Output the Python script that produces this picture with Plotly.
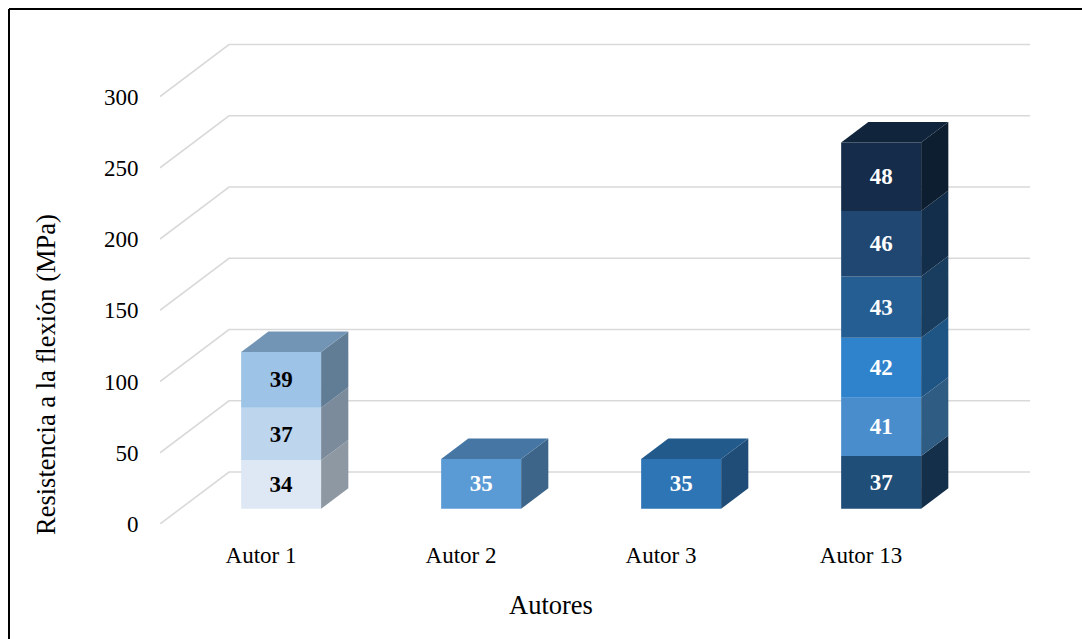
import plotly.graph_objects as go

# ---------------- data ----------------
categories = ["Autor 1", "Autor 2", "Autor 3", "Autor 13"]
autor1_values = [34, 37, 39]
autor2_values = [35]
autor3_values = [35]
autor13_values = [37, 41, 42, 43, 46, 48]
y_ticks = [0, 50, 100, 150, 200, 250, 300]

series = [autor1_values, autor2_values, autor3_values, autor13_values]

# ---------------- styles ----------------
front_colors = [
    ["#dee8f4", "#bdd5ed", "#9dc3e6"],
    ["#5b9bd5"],
    ["#2e75b6"],
    ["#1f4e79", "#4a8dcc", "#2f83cc", "#255e92", "#1f4771", "#152d4a"],
]
side_colors = [
    ["#8d98a3", "#7b8b9b", "#617c95"],
    ["#3d6589"],
    ["#1f4d78"],
    ["#142f4a", "#2f5c82", "#1f5585", "#183d5f", "#132e4a", "#0d1e30"],
]
top_colors = ["#7395b5", "#4677a4", "#235a8c", "#10243b"]
text_colors = ["#000000", "#ffffff", "#ffffff", "#ffffff"]

FONT = "Liberation Serif"
GRID = "#d9d9d9"

# geometry (plot-area pixels -> data units)
L_PX, R_PX, T_PX, B_PX = 160, 1032, 38, 524
PX_PER_X = 200.0
PX_PER_Y = 1.425
X0 = -(261 - L_PX) / PX_PER_X
X1 = (R_PX - 261) / PX_PER_X
XG1 = (1030 - 261) / PX_PER_X
Y1 = (B_PX - T_PX) / PX_PER_Y
DX = 69 / PX_PER_X          # wall depth in x units
DY = 52 / PX_PER_Y          # wall depth in y units
F0 = 0.292                  # bar front depth fraction
FD = 0.394                  # bar depth fraction
BAR_W = 0.4

fig = go.Figure()

shapes = []
# gridlines: diagonal on the side wall + horizontal on back wall
for v in y_ticks:
    shapes.append(dict(type="path", xref="x", yref="y", layer="below",
                       path=f"M {X0},{v} L {X0 + DX},{v + DY} L {XG1},{v + DY}",
                       line=dict(color=GRID, width=1.6)))

bx, by, bbase, bcol, btext, btcol = [], [], [], [], [], []
for i, vals in enumerate(series):
    xc = i + F0 * DX
    base = F0 * DY
    xr = xc + BAR_W / 2
    xl = xc - BAR_W / 2
    ddx, ddy = FD * DX, FD * DY
    cum = base
    for j, v in enumerate(vals):
        b, t = cum, cum + v
        # side face
        fig.add_trace(go.Scatter(
            x=[xr, xr + ddx, xr + ddx, xr, xr],
            y=[b, b + ddy, t + ddy, t, b],
            mode="lines", fill="toself", fillcolor=side_colors[i][j],
            line=dict(width=0), hoverinfo="skip", showlegend=False))
        bx.append(xc)
        by.append(v)
        bbase.append(b)
        bcol.append(front_colors[i][j])
        btext.append(f"<b>{v}</b>")
        btcol.append(text_colors[i])
        cum = t
    # top face
    fig.add_trace(go.Scatter(
        x=[xl, xr, xr + ddx, xl + ddx, xl],
        y=[cum, cum, cum + ddy, cum + ddy, cum],
        mode="lines", fill="toself", fillcolor=top_colors[i],
        line=dict(width=0), hoverinfo="skip", showlegend=False))

fig.add_trace(go.Bar(
    x=bx, y=by, base=bbase, width=BAR_W,
    marker=dict(color=bcol, line=dict(width=0)),
    text=btext, textposition="inside", insidetextanchor="middle",
    textangle=0, textfont=dict(family=FONT, size=23, color=btcol),
    showlegend=False))

def px_to_paper(px, py):
    return (px - L_PX) / (R_PX - L_PX), (B_PX - py) / (B_PX - T_PX)

bx0, by0 = px_to_paper(9, 9)
bx1, by1 = px_to_paper(1090, 650)
shapes.append(dict(type="line", xref="paper", yref="paper", x0=bx0, y0=by0, x1=bx1, y1=by0,
                   line=dict(color="black", width=2)))
shapes.append(dict(type="line", xref="paper", yref="paper", x0=bx0, y0=by0, x1=bx0, y1=by1,
                   line=dict(color="black", width=2)))

ax_x, ax_y = px_to_paper(551, 605)
ay_x, ay_y = px_to_paper(46, 375)

fig.update_layout(
    width=1082, height=639,
    margin=dict(l=L_PX, r=1082 - R_PX, t=T_PX, b=639 - B_PX, pad=0),
    paper_bgcolor="white", plot_bgcolor="white",
    barmode="overlay",
    font=dict(family=FONT, size=23, color="#000000"),
    shapes=shapes,
    annotations=[
        dict(text="Autores", x=ax_x, y=ax_y, xref="paper", yref="paper",
             showarrow=False, font=dict(family=FONT, size=26.5, color="#000000"),
             xanchor="center", yanchor="middle"),
        dict(text="Resistencia a la flexión (MPa)", x=ay_x, y=ay_y, xref="paper", yref="paper",
             showarrow=False, textangle=-90, font=dict(family=FONT, size=26.5, color="#000000"),
             xanchor="center", yanchor="middle"),
    ],
    xaxis=dict(range=[X0, X1], tickmode="array", tickvals=list(range(len(categories))),
               ticktext=categories, showgrid=False, zeroline=False, showline=False,
               ticks="outside", ticklen=10, tickcolor="rgba(0,0,0,0)",
               tickfont=dict(family=FONT, size=23, color="#000000"), fixedrange=True),
    yaxis=dict(range=[0, Y1], tickmode="array", tickvals=y_ticks,
               showgrid=False, zeroline=False, showline=False,
               ticks="outside", ticklen=16, tickcolor="rgba(0,0,0,0)",
               tickfont=dict(family=FONT, size=23, color="#000000"), fixedrange=True),
)

fig.write_html("out.html")
